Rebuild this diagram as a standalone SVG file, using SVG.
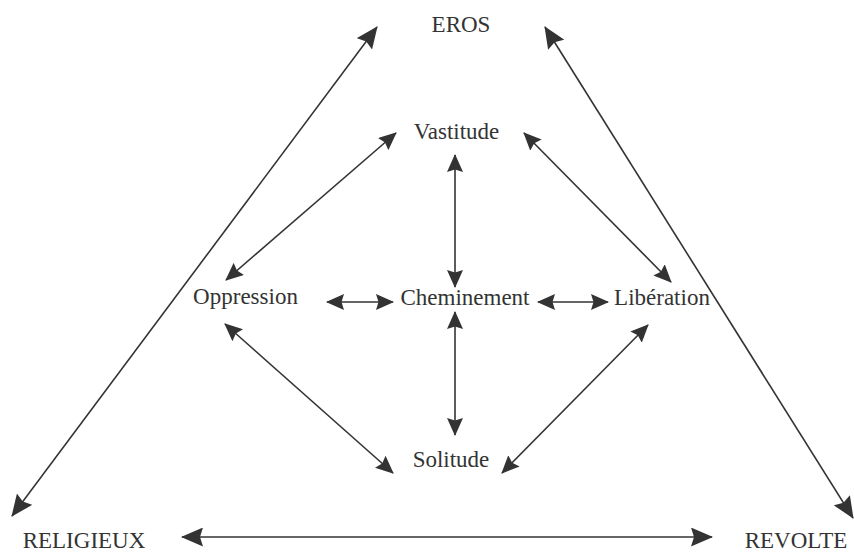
<svg xmlns="http://www.w3.org/2000/svg" width="854" height="553" viewBox="0 0 854 553">
<style>
text{font-family:"Liberation Serif","Times New Roman",serif;font-size:23px;fill:#333;text-anchor:middle}
.big{stroke:#333;stroke-width:1.6;fill:none;marker-start:url(#hb);marker-end:url(#hb)}
.sm{stroke:#333;stroke-width:1.6;fill:none;marker-start:url(#hs);marker-end:url(#hs)}
</style>
<defs>
<marker id="hb" markerUnits="userSpaceOnUse" viewBox="0 0 22 19" refX="21" refY="9.5" markerWidth="22" markerHeight="19" orient="auto-start-reverse"><path d="M0,0 L22,9.5 L0,19 L3,9.5 z" fill="#333"/></marker>
<marker id="hs" markerUnits="userSpaceOnUse" viewBox="0 0 18 16" refX="17" refY="8" markerWidth="18" markerHeight="16" orient="auto-start-reverse"><path d="M0,0 L18,8 L0,16 L2.5,8 z" fill="#333"/></marker>
</defs>
<g id="connectors">
<line class="big" x1="12" y1="516" x2="377" y2="27"/>
<line class="big" x1="545" y1="27" x2="853" y2="518"/>
<line class="big" x1="182" y1="537" x2="712" y2="537"/>
<line class="sm" x1="226" y1="280" x2="396" y2="133"/>
<line class="sm" x1="524" y1="133" x2="671" y2="282"/>
<line class="sm" x1="455" y1="155" x2="455" y2="287"/>
<line class="sm" x1="455" y1="312" x2="455" y2="435"/>
<line class="sm" x1="225" y1="324" x2="393" y2="473"/>
<line class="sm" x1="648" y1="325" x2="502" y2="473"/>
<line class="sm" x1="327" y1="302" x2="393" y2="302"/>
<line class="sm" x1="538" y1="302" x2="608" y2="302"/>
</g>
<g id="eros"><text x="461" y="32">EROS</text></g>
<g id="religieux"><text x="84" y="548">RELIGIEUX</text></g>
<g id="revolte"><text x="796" y="548">REVOLTE</text></g>
<g id="vastitude"><text x="456.5" y="139">Vastitude</text></g>
<g id="cheminement"><text x="465" y="305">Cheminement</text></g>
<g id="oppression"><text x="245.5" y="304">Oppression</text></g>
<g id="liberation"><text x="662" y="305">Libération</text></g>
<g id="solitude"><text x="451" y="467">Solitude</text></g>
</svg>
